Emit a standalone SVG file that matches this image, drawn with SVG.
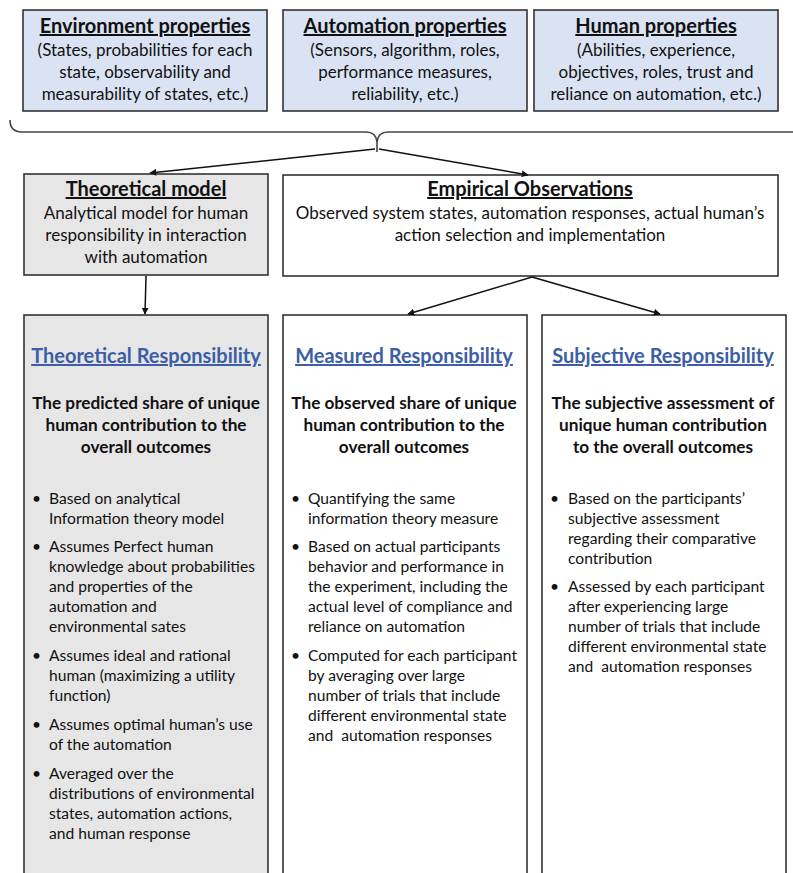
<svg xmlns="http://www.w3.org/2000/svg" width="793" height="873" viewBox="0 0 793 873">
<defs>
<marker id="ah" viewBox="0 0 10 10" refX="9" refY="5" markerWidth="7" markerHeight="7" markerUnits="userSpaceOnUse" orient="auto"><path d="M0,0 L10,5 L0,10 z" fill="#111"/></marker>
<style>
.box{stroke:#333;stroke-width:1.6}
.blue{fill:#dae3f3}
.gray{fill:#e7e6e6}
.white{fill:#fff}
text{font-family:Lato,"Liberation Sans",sans-serif;fill:#111}
.t{font-size:20px;font-weight:bold;text-anchor:middle;text-decoration:underline}
.b{font-size:17px;text-anchor:middle}
.rt{font-size:20px;font-weight:bold;text-anchor:middle;text-decoration:underline;fill:#3b5ea6}
.st{font-size:17.2px;font-weight:bold;text-anchor:middle}
.li{font-size:15.6px}
.conn{stroke:#111;stroke-width:1.5;fill:none}
</style>
</defs>
<rect width="793" height="873" fill="#fff"/>

<g id="env">
<rect class="box blue" x="23" y="10" width="244" height="101"/>
<text class="t" x="145" y="33">Environment properties</text>
<text class="b" x="145" y="56">(States, probabilities for each</text>
<text class="b" x="145" y="78">state, observability and</text>
<text class="b" x="145" y="100">measurability of states, etc.)</text>
</g>
<g id="auto">
<rect class="box blue" x="283" y="10" width="244" height="101"/>
<text class="t" x="405" y="33">Automation properties</text>
<text class="b" x="405" y="56">(Sensors, algorithm, roles,</text>
<text class="b" x="405" y="78">performance measures,</text>
<text class="b" x="405" y="100">reliability, etc.)</text>
</g>
<g id="human">
<rect class="box blue" x="534" y="10" width="244" height="101"/>
<text class="t" x="656" y="33">Human properties</text>
<text class="b" x="656" y="56">(Abilities, experience,</text>
<text class="b" x="656" y="78">objectives, roles, trust and</text>
<text class="b" x="656" y="100">reliance on automation, etc.)</text>
</g>

<g id="theomodel">
<rect class="box gray" x="24" y="174" width="244" height="101"/>
<text class="t" x="146" y="196">Theoretical model</text>
<text class="b" x="146" y="219">Analytical model for human</text>
<text class="b" x="146" y="241">responsibility in interaction</text>
<text class="b" x="146" y="263">with automation</text>
</g>
<g id="empirical">
<rect class="box white" x="283" y="175" width="495" height="101"/>
<text class="t" x="530" y="196">Empirical Observations</text>
<text class="b" x="530" y="219">Observed system states, automation responses, actual human’s</text>
<text class="b" x="530" y="241">action selection and implementation</text>
</g>

<g id="theoresp">
<rect class="box gray" x="24" y="315" width="244" height="570"/>
<text class="rt" x="146" y="363">Theoretical Responsibility</text>
<text class="st" x="146" y="409">The predicted share of unique</text>
<text class="st" x="146" y="431">human contribution to the</text>
<text class="st" x="146" y="453">overall outcomes</text>
<g class="li">
<text x="32" y="504">•</text><text x="49" y="504">Based on analytical</text>
<text x="49" y="524">Information theory model</text>
<text x="32" y="552">•</text><text x="49" y="552">Assumes Perfect human</text>
<text x="49" y="572">knowledge about probabilities</text>
<text x="49" y="592">and properties of the</text>
<text x="49" y="612">automation and</text>
<text x="49" y="632">environmental sates</text>
<text x="32" y="661">•</text><text x="49" y="661">Assumes ideal and rational</text>
<text x="49" y="681">human (maximizing a utility</text>
<text x="49" y="701">function)</text>
<text x="32" y="730">•</text><text x="49" y="730">Assumes optimal human’s use</text>
<text x="49" y="750">of the automation</text>
<text x="32" y="779">•</text><text x="49" y="779">Averaged over the</text>
<text x="49" y="799">distributions of environmental</text>
<text x="49" y="819">states, automation actions,</text>
<text x="49" y="839">and human response</text>
</g>
</g>

<g id="measresp">
<rect class="box white" x="283" y="315" width="244" height="570"/>
<text class="rt" x="404" y="363">Measured Responsibility</text>
<text class="st" x="404" y="409">The observed share of unique</text>
<text class="st" x="404" y="431">human contribution to the</text>
<text class="st" x="404" y="453">overall outcomes</text>
<g class="li">
<text x="291" y="504">•</text><text x="308" y="504">Quantifying the same</text>
<text x="308" y="524">information theory measure</text>
<text x="291" y="552">•</text><text x="308" y="552">Based on actual participants</text>
<text x="308" y="572">behavior and performance in</text>
<text x="308" y="592">the experiment, including the</text>
<text x="308" y="612">actual level of compliance and</text>
<text x="308" y="632">reliance on automation</text>
<text x="291" y="661">•</text><text x="308" y="661">Computed for each participant</text>
<text x="308" y="681">by averaging over large</text>
<text x="308" y="701">number of trials that include</text>
<text x="308" y="721">different environmental state</text>
<text x="308" y="741" xml:space="preserve">and  automation responses</text>
</g>
</g>

<g id="subjresp">
<rect class="box white" x="542" y="315" width="244" height="570"/>
<text class="rt" x="663" y="363">Subjective Responsibility</text>
<text class="st" x="663" y="409">The subjective assessment of</text>
<text class="st" x="663" y="431">unique human contribution</text>
<text class="st" x="663" y="453">to the overall outcomes</text>
<g class="li">
<text x="550" y="504">•</text><text x="568" y="504">Based on the participants’</text>
<text x="568" y="524">subjective assessment</text>
<text x="568" y="544">regarding their comparative</text>
<text x="568" y="564">contribution</text>
<text x="550" y="592">•</text><text x="568" y="592">Assessed by each participant</text>
<text x="568" y="612">after experiencing large</text>
<text x="568" y="632">number of trials that include</text>
<text x="568" y="652">different environmental state</text>
<text x="568" y="672" xml:space="preserve">and  automation responses</text>
</g>
</g>

<g id="connectors">
<path d="M10,120 Q10,132 22,132 L366,132 Q376,132 377,142 Q378,132 388,132 L793,132" fill="none" stroke="#444" stroke-width="1.6"/>
<line x1="377" y1="141" x2="377" y2="152" stroke="#444" stroke-width="1.6"/>
<line class="conn" x1="375" y1="149" x2="150" y2="173" marker-end="url(#ah)"/>
<line class="conn" x1="379" y1="149" x2="528" y2="175" marker-end="url(#ah)"/>
<line class="conn" x1="146" y1="276" x2="145" y2="314" marker-end="url(#ah)"/>
<line class="conn" x1="532" y1="277" x2="408" y2="314" marker-end="url(#ah)"/>
<line class="conn" x1="532" y1="277" x2="660" y2="314" marker-end="url(#ah)"/>
</g>
</svg>
